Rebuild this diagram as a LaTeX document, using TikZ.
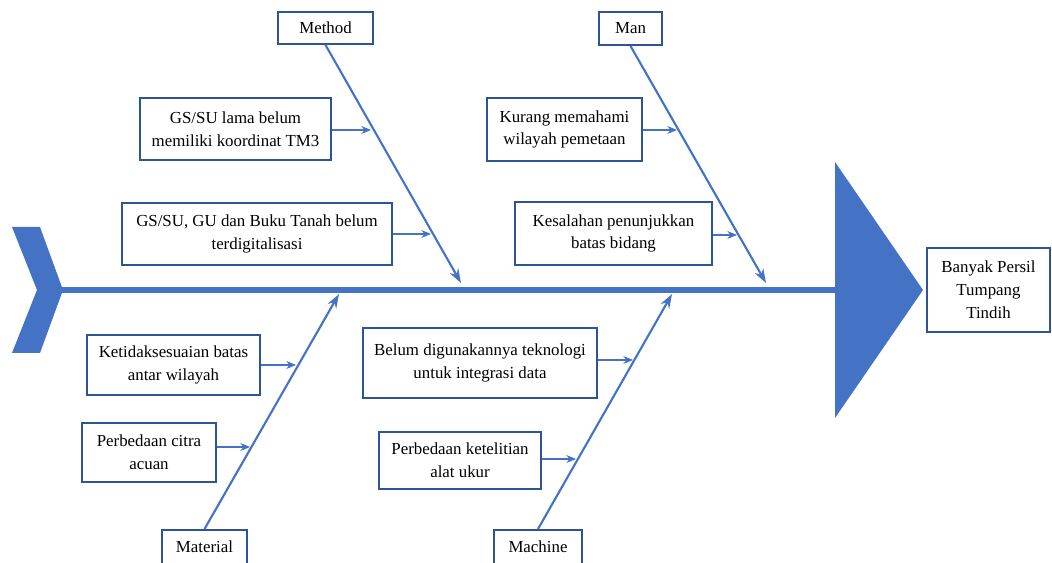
\documentclass[tikz,border=0pt]{standalone}
\usepackage{fontspec}
\setmainfont{Liberation Serif}
\usetikzlibrary{arrows.meta}
\definecolor{fishblue}{RGB}{68,114,196}
\definecolor{boxblue}{RGB}{47,84,150}
\tikzstyle{category} = [rectangle, draw=boxblue, line width=1.1pt, fill=white, text centered, inner sep=0pt]
\tikzstyle{cause} = [rectangle, draw=boxblue, line width=1.1pt, fill=white, align=center, inner sep=0pt]
\tikzstyle{effect} = [rectangle, draw=boxblue, line width=1.3pt, fill=white, align=center, inner sep=0pt]
\tikzstyle{spine} = [draw=fishblue, line width=3.4pt]
\tikzstyle{bone} = [draw=fishblue, line width=1.2pt, -{Stealth[length=8pt,width=5.5pt]}]
\tikzstyle{arrow} = [draw=fishblue, line width=0.6pt, -{Stealth[length=5.5pt,width=4.5pt]}]

\begin{document}
\begin{tikzpicture}[x=0.02cm, y=-0.02cm, font=\fontsize{9.6}{13}\selectfont]
  \useasboundingbox (0,0) rectangle (1052,563);

  % tail and head of the fish
  \fill[fishblue] (12,227) -- (40,227) -- (63,290) -- (40,353) -- (12,353) -- (37,290) -- cycle;
  \fill[fishblue] (835,162) -- (923,290) -- (835,418) -- cycle;
  \coordinate (tail) at (60,290);
  \coordinate (head) at (838,290);
  \draw [spine] (tail) -- (head);

  \node (effect) [effect, minimum width=2.46cm, minimum height=1.68cm] at (988.5,290) {Banyak Persil\\Tumpang\\Tindih};

  % categories
  \node (method) [category, minimum width=1.9cm, minimum height=0.64cm] at (325.5,28) {Method};
  \node (man) [category, minimum width=1.26cm, minimum height=0.66cm] at (630.5,28.5) {Man};
  \node (material) [category, minimum width=1.7cm, minimum height=0.68cm] at (204.5,547) {Material};
  \node (machine) [category, minimum width=1.76cm, minimum height=0.68cm] at (538,547) {Machine};

  \coordinate (methodtip) at (461,283);
  \coordinate (mantip) at (766,283);
  \coordinate (materialtip) at (339,294);
  \coordinate (machinetip) at (672,294);

  \draw [bone] (method.south) -- (methodtip);
  \draw [bone] (man.south) -- (mantip);
  \draw [bone] (material.north) -- (materialtip);
  \draw [bone] (machine.north) -- (machinetip);

  % causes
  \node (c1) [cause, minimum width=3.82cm, minimum height=1.24cm] at (235.5,129) {GS/SU lama belum\\memiliki koordinat TM3};
  \node (c2) [cause, minimum width=5.4cm, minimum height=1.24cm] at (257,234) {GS/SU, GU dan Buku Tanah belum\\terdigitalisasi};
  \node (c3) [cause, minimum width=3.1cm, minimum height=1.26cm] at (564.5,129.5) {Kurang memahami\\wilayah pemetaan};
  \node (c4) [cause, minimum width=3.94cm, minimum height=1.26cm] at (613.5,233.5) {Kesalahan penunjukkan\\batas bidang};
  \node (c5) [cause, minimum width=3.46cm, minimum height=1.2cm] at (173.5,365) {Ketidaksesuaian batas\\antar wilayah};
  \node (c6) [cause, minimum width=2.68cm, minimum height=1.18cm] at (149,452.5) {Perbedaan citra\\acuan};
  \node (c7) [cause, minimum width=4.68cm, minimum height=1.4cm] at (480,363) {Belum digunakannya teknologi\\untuk integrasi data};
  \node (c8) [cause, minimum width=3.24cm, minimum height=1.14cm] at (460,460.5) {Perbedaan ketelitian\\alat ukur};

  \coordinate (b1) at (371,130);
  \coordinate (b2) at (431,234);
  \coordinate (b3) at (677,130);
  \coordinate (b4) at (737,235);
  \coordinate (b5) at (296,365);
  \coordinate (b6) at (250,447);
  \coordinate (b7) at (633,360);
  \coordinate (b8) at (576,459);

  \draw [arrow] (c1.east |- b1) -- (b1);
  \draw [arrow] (c2.east |- b2) -- (b2);
  \draw [arrow] (c3.east |- b3) -- (b3);
  \draw [arrow] (c4.east |- b4) -- (b4);
  \draw [arrow] (c5.east |- b5) -- (b5);
  \draw [arrow] (c6.east |- b6) -- (b6);
  \draw [arrow] (c7.east |- b7) -- (b7);
  \draw [arrow] (c8.east |- b8) -- (b8);

\end{tikzpicture}
\end{document}
